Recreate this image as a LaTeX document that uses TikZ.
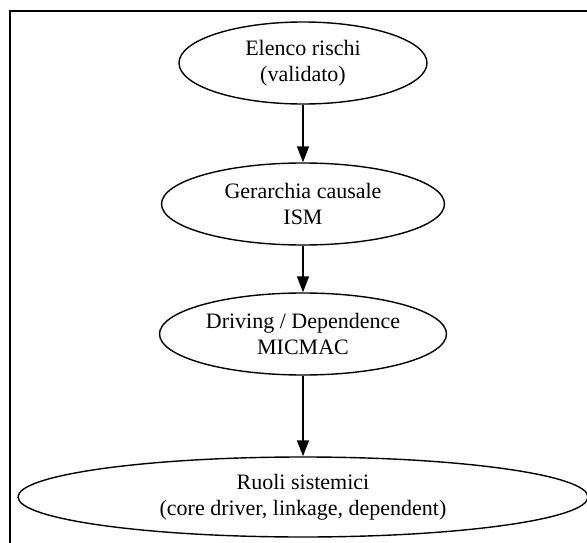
\documentclass[tikz,border=0pt]{standalone}
\usepackage{fontspec}
\setmainfont{Liberation Serif}
\usetikzlibrary{shapes.geometric,arrows.meta}
\tikzset{
  stage/.style={ellipse, draw, line width=1.4pt, inner sep=0pt, align=center,
    font=\fontsize{22}{26}\selectfont},
  flow/.style={line width=1.4pt, -{Triangle[length=16pt,width=12pt]}}
}
\begin{document}
\begin{tikzpicture}[x=1pt,y=-1pt]
\useasboundingbox (0,0) rectangle (587,543);
\draw[line width=1.4pt] (10,11) rectangle (600,560);
\node[stage, minimum width=248pt, minimum height=82pt] (a) at (303,63) {Elenco rischi\\(validato)};
\node[stage, minimum width=283pt, minimum height=82pt] (b) at (303,204) {Gerarchia causale\\ISM};
\node[stage, minimum width=287pt, minimum height=82pt] (c) at (303,334) {Driving / Dependence\\MICMAC};
\node[stage, minimum width=570pt, minimum height=80pt] (d) at (303,497) {Ruoli sistemici\\(core driver, linkage, dependent)};
\draw[flow] (a.south) -- (b.north);
\draw[flow] (b.south) -- (c.north);
\draw[flow] (c.south) -- (d.north);
\end{tikzpicture}
\end{document}
